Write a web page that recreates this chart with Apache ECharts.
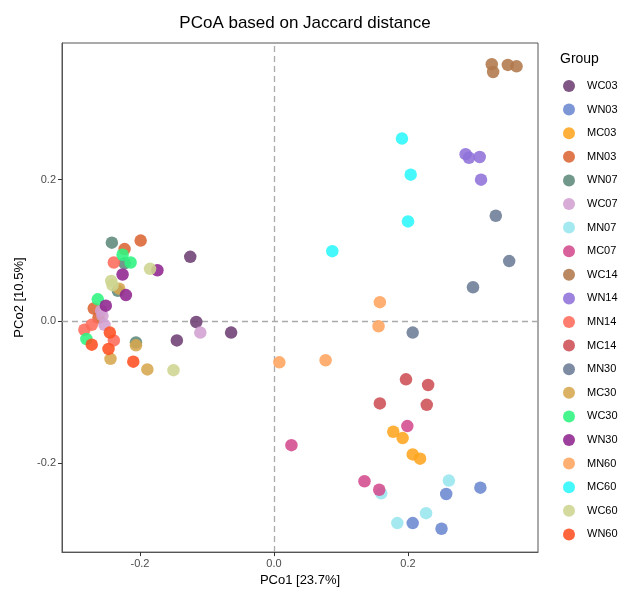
<!DOCTYPE html>
<html>
<head>
<meta charset="utf-8">
<script src="https://cdn.jsdelivr.net/npm/echarts@6/dist/echarts.min.js"></script>
<style>html,body{margin:0;padding:0;background:#fff}#c{width:621px;height:592px}</style>
</head>
<body>
<div id="c"></div>
<script>
const groups = ['WC03','WN03','MC03','MN03','WN07','WC07','MN07','MC07','WC14','WN14','MN14','MC14','MN30','MC30','WC30','WN30','MN60','MC60','WC60','WN60'];
const ptsWC03 = [[-0.125,0.091],[-0.116,-0.001],[-0.145,-0.027],[-0.064,-0.016]];
const ptsWN03 = [[0.257,-0.244],[0.308,-0.235],[0.207,-0.285],[0.250,-0.293]];
const ptsMC03 = [[0.178,-0.156],[0.192,-0.165],[0.207,-0.188],[0.218,-0.194]];
const ptsMN03 = [[-0.199,0.114],[-0.223,0.102],[-0.269,0.018],[-0.262,0.005]];
const ptsWN07 = [[-0.242,0.111],[-0.223,0.082],[-0.233,0.043],[-0.206,-0.030]];
const ptsWC07 = [[-0.110,-0.016],[-0.256,0.008],[-0.253,-0.005],[-0.258,0.015]];
const ptsMN07 = [[0.261,-0.225],[0.160,-0.243],[0.184,-0.285],[0.227,-0.271]];
const ptsMC07 = [[0.199,-0.148],[0.026,-0.175],[0.135,-0.226],[0.157,-0.238]];
const ptsWC14 = [[0.325,0.363],[0.327,0.352],[0.349,0.362],[0.362,0.360]];
const ptsWN14 = [[0.286,0.236],[0.291,0.231],[0.307,0.232],[0.309,0.200]];
const ptsMN14 = [[-0.239,0.083],[-0.272,-0.005],[-0.283,-0.012],[-0.239,-0.027]];
const ptsMC14 = [[0.197,-0.082],[0.230,-0.090],[0.158,-0.116],[0.228,-0.118]];
const ptsMN30 = [[0.331,0.149],[0.351,0.085],[0.297,0.048],[0.207,-0.016]];
const ptsMC30 = [[-0.231,0.046],[-0.206,-0.034],[-0.244,-0.053],[-0.189,-0.068]];
const ptsWC30 = [[-0.226,0.094],[-0.214,0.083],[-0.263,0.031],[-0.280,-0.025]];
const ptsWN30 = [[-0.174,0.072],[-0.226,0.066],[-0.221,0.037],[-0.251,0.022]];
const ptsMN60 = [[0.158,0.027],[0.156,-0.007],[0.008,-0.058],[0.077,-0.055]];
const ptsMC60 = [[0.191,0.258],[0.204,0.207],[0.200,0.141],[0.087,0.099]];
const ptsWC60 = [[-0.185,0.074],[-0.243,0.057],[-0.241,0.051],[-0.150,-0.069]];
const ptsWN60 = [[-0.245,-0.016],[-0.272,-0.033],[-0.247,-0.039],[-0.210,-0.057]];
const groupPoints = [ptsWC03,ptsWN03,ptsMC03,ptsMN03,ptsWN07,ptsWC07,ptsMN07,ptsMC07,ptsWC14,ptsWN14,ptsMN14,ptsMC14,ptsMN30,ptsMC30,ptsWC30,ptsWN30,ptsMN60,ptsMC60,ptsWC60,ptsWN60];
const tickValues = [-0.2, 0.0, 0.2];
const xTitle = 'PCo1 [23.7%]';
const yTitle = 'PCo2 [10.5%]';

const palette = ['#6E3F73','#6B87D0','#FFA51F','#DC6534','#5E8A7C','#D2A0D2','#99E6EE','#D44B8D','#B0774B','#8F72DA','#FF6B5A','#CC4F55','#6C7C96','#D6A64D','#2EF47F','#8F2590','#FFA45E','#2BF7FB','#CED58F','#FF5022'];

const font = '"Liberation Sans", Arial, Helvetica, sans-serif';
const series = groups.map((g, i) => ({
  name: g,
  type: 'scatter',
  data: groupPoints[i],
  symbol: 'circle',
  symbolSize: 12.5,
  itemStyle: { color: palette[i], opacity: 0.88 },
  emphasis: { disabled: true }
}));
series[0].markLine = {
  silent: true,
  symbol: ['none','none'],
  label: { show: false },
  lineStyle: { color: '#AAAAAA', type: [6,4], width: 1.3 },
  data: [{ xAxis: 0 }, { yAxis: 0 }],
  z: 1
};

const axisCommon = {
  type: 'value',
  axisLine: { show: true, onZero: false, lineStyle: { color: '#555', width: 1 } },
  axisTick: { show: true, length: 4, lineStyle: { color: '#333' }, customValues: tickValues },
  axisLabel: { color: '#4D4D4D', fontSize: 11, fontFamily: font, margin: 6, customValues: tickValues, formatter: v => v.toFixed(1) },
  splitLine: { show: false },
  nameLocation: 'middle',
  nameTextStyle: { color: '#000', fontSize: 13, fontFamily: font }
};

const chart = echarts.init(document.getElementById('c'), null, { renderer: 'canvas' });
chart.setOption({
  animation: false,
  backgroundColor: '#fff',
  title: {
    text: 'PCoA based on Jaccard distance',
    left: 300, top: 10, textAlign: 'center',
    textStyle: { fontSize: 17, fontWeight: 'normal', color: '#000', fontFamily: font }
  },
  grid: { left: 62, right: 83, top: 43, bottom: 36, show: true, borderColor: '#555', borderWidth: 1, backgroundColor: 'transparent' },
  xAxis: Object.assign({}, axisCommon, { min: -0.3164, max: 0.394, name: xTitle, nameGap: 21 }),
  yAxis: Object.assign({}, axisCommon, { min: -0.326, max: 0.393, name: yTitle, nameGap: 25 }),
  legend: {
    orient: 'vertical',
    left: 558, top: 75,
    itemWidth: 12, itemHeight: 12, itemGap: 11.6,
    icon: 'circle',
    data: groups,
    textStyle: { fontSize: 11, color: '#000', fontFamily: font, padding: [0,0,0,7] }
  },
  graphic: [{
    type: 'text', left: 560, top: 52,
    style: { text: 'Group', fontSize: 14, fill: '#000', fontFamily: font }
  }],
  series: series
});
</script>
</body>
</html>
